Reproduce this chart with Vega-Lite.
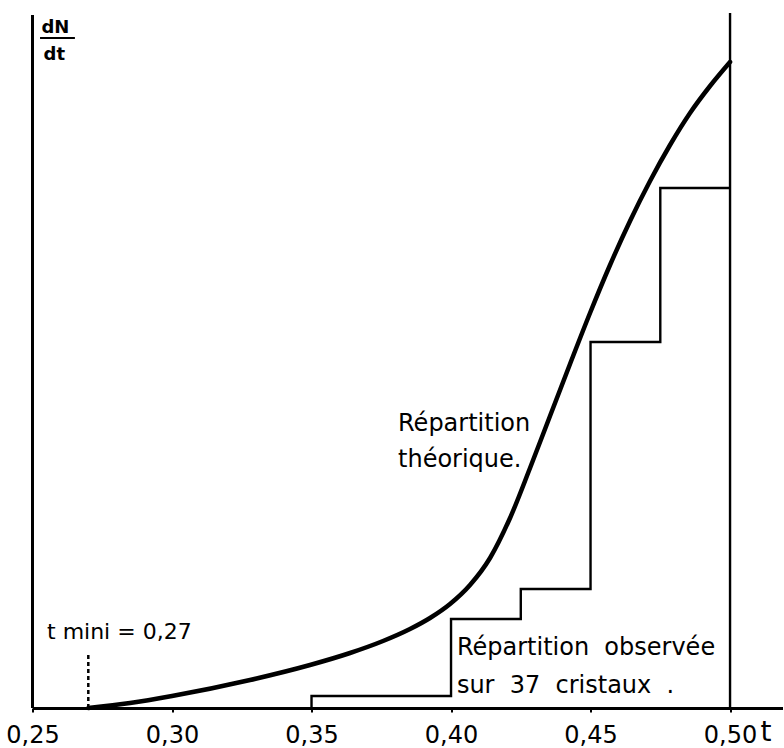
{
  "$schema": "https://vega.github.io/schema/vega-lite/v6.json",
  "width": 750,
  "height": 700,
  "autosize": {"type": "none"},
  "padding": {"left": 32.5, "top": 8, "right": 0, "bottom": 40},
  "background": "white",
  "config": {"view": {"stroke": null}, "font": "DejaVu Sans"},
  "datasets": {
    "curve": [
      {"t": 0.27, "v": 0}, {"t": 0.28495, "v": 5}, {"t": 0.30, "v": 12}, {"t": 0.32796, "v": 28},
      {"t": 0.34946, "v": 43}, {"t": 0.3638, "v": 55}, {"t": 0.37563, "v": 67}, {"t": 0.3853, "v": 79},
      {"t": 0.39247, "v": 90}, {"t": 0.39964, "v": 104}, {"t": 0.40681, "v": 123}, {"t": 0.41398, "v": 150},
      {"t": 0.42115, "v": 190}, {"t": 0.42832, "v": 240}, {"t": 0.43548, "v": 292}, {"t": 0.44265, "v": 344},
      {"t": 0.44982, "v": 395}, {"t": 0.45699, "v": 443}, {"t": 0.46416, "v": 487}, {"t": 0.47133, "v": 527},
      {"t": 0.47849, "v": 563}, {"t": 0.48566, "v": 595}, {"t": 0.49283, "v": 622}, {"t": 0.50, "v": 646}
    ],
    "hist": [
      {"i": 0, "t": 0.35, "v": 0}, {"i": 1, "t": 0.35, "v": 12}, {"i": 2, "t": 0.40, "v": 12},
      {"i": 3, "t": 0.40, "v": 89}, {"i": 4, "t": 0.425, "v": 89}, {"i": 5, "t": 0.425, "v": 119},
      {"i": 6, "t": 0.45, "v": 119}, {"i": 7, "t": 0.45, "v": 366}, {"i": 8, "t": 0.475, "v": 366},
      {"i": 9, "t": 0.475, "v": 520}, {"i": 10, "t": 0.50, "v": 520}
    ],
    "yaxis": [{"t": 0.25, "v": 0, "v2": 693}],
    "rightline": [{"t": 0.50, "v": 0, "v2": 695}],
    "tmin": [{"t": 0.27, "v": 0, "v2": 53}],
    "frac": [{"t": 0.2527, "t2": 0.2652, "v": 670}],
    "dndt": [{"t": 0.2582, "v": 680, "label": "dN"}, {"t": 0.2578, "v": 653, "label": "dt"}],
    "notes": [
      {"t": 0.2552, "v": 76, "label": "t mini = 0,27", "size": "s"},
      {"t": 0.3810, "v": 284, "label": "Répartition", "size": "l"},
      {"t": 0.3810, "v": 248, "label": "théorique.", "size": "l"},
      {"t": 0.4021, "v": 60, "label": "Répartition\u00a0\u00a0observée", "size": "l"},
      {"t": 0.4021, "v": 22, "label": "sur\u00a0\u00a037\u00a0\u00a0cristaux\u00a0\u00a0.", "size": "l"}
    ]
  },
  "encoding": {
    "x": {
      "field": "t", "type": "quantitative",
      "scale": {"domain": [0.25, 0.5188], "nice": false, "zero": false},
      "axis": {
        "values": [0.25, 0.3, 0.35, 0.4, 0.45, 0.5],
        "labelExpr": "replace(format(datum.value, '.2f'), '.', ',')",
        "labelFont": "DejaVu Sans", "labelFontSize": 24, "labelColor": "black",
        "labelPadding": 11, "labelFlush": false, "labelOverlap": false,
        "domainColor": "black", "domainWidth": 3,
        "tickColor": "black", "tickWidth": 2, "tickSize": 4,
        "grid": false,
        "title": "t", "titleFont": "DejaVu Sans", "titleFontSize": 28, "titleFontWeight": "normal",
        "titleColor": "black", "titleX": 733, "titleY": 32, "titleAlign": "center", "titleBaseline": "alphabetic", "titleAnchor": null
      }
    },
    "y": {"field": "v", "type": "quantitative", "scale": {"domain": [0, 700], "nice": false}, "axis": null}
  },
  "layer": [
    {"data": {"name": "yaxis"}, "mark": {"type": "rule", "color": "black", "strokeWidth": 3}, "encoding": {"y2": {"field": "v2"}}},
    {"data": {"name": "rightline"}, "mark": {"type": "rule", "color": "black", "strokeWidth": 2.4}, "encoding": {"y2": {"field": "v2"}}},
    {"data": {"name": "tmin"}, "mark": {"type": "rule", "color": "black", "strokeWidth": 2.5, "strokeDash": [4, 3]}, "encoding": {"y2": {"field": "v2"}}},
    {"data": {"name": "hist"}, "mark": {"type": "line", "color": "black", "strokeWidth": 2.4}, "encoding": {"order": {"field": "i", "type": "quantitative"}}},
    {"data": {"name": "curve"}, "mark": {"type": "line", "color": "black", "strokeWidth": 4.5, "interpolate": "monotone", "strokeCap": "round"}, "encoding": {}},
    {"data": {"name": "frac"}, "mark": {"type": "rule", "color": "black", "strokeWidth": 2}, "encoding": {"x2": {"field": "t2"}}},
    {"data": {"name": "dndt"}, "mark": {"type": "text", "font": "DejaVu Sans", "fontSize": 18, "fontWeight": "bold", "align": "center", "baseline": "middle", "color": "black"}, "encoding": {"text": {"field": "label"}}},
    {"data": {"name": "notes"}, "transform": [{"filter": "datum.size == 's'"}], "mark": {"type": "text", "font": "DejaVu Sans", "fontSize": 22, "align": "left", "baseline": "middle", "color": "black"}, "encoding": {"text": {"field": "label"}}},
    {"data": {"name": "notes"}, "transform": [{"filter": "datum.size == 'l'"}], "mark": {"type": "text", "font": "DejaVu Sans", "fontSize": 24, "align": "left", "baseline": "middle", "color": "black"}, "encoding": {"text": {"field": "label"}}}
  ]
}
